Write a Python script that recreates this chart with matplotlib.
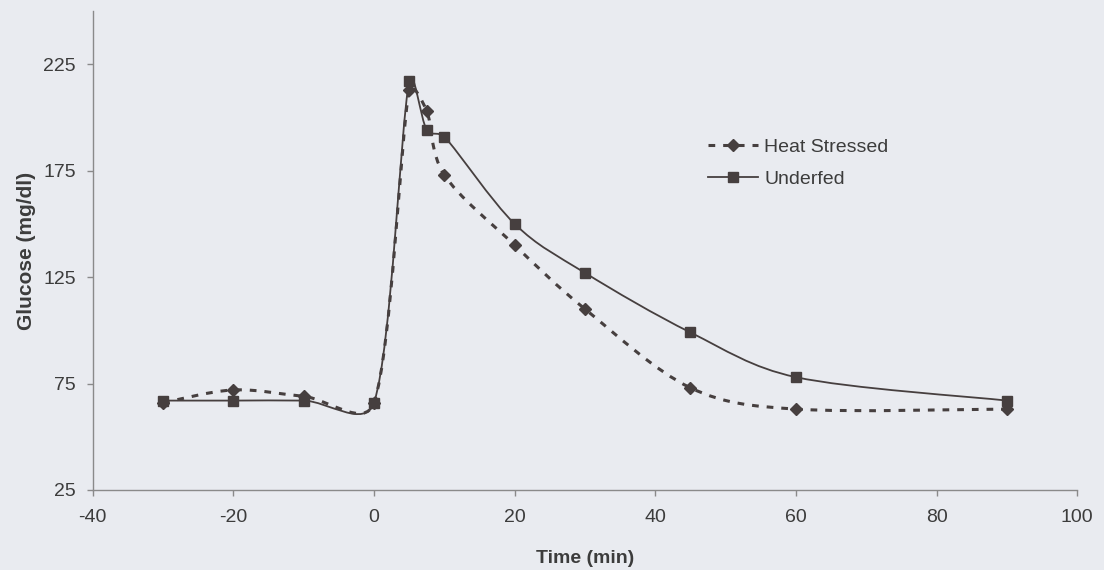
import numpy as np
import matplotlib
matplotlib.use("Agg")
import matplotlib.pyplot as plt
from matplotlib.path import Path
from matplotlib.patches import PathPatch
from matplotlib.lines import Line2D

# ---- data ----
time_hs = [-30, -20, -10, 0, 5, 7.5, 10, 20, 30, 45, 60, 90]
heat_stressed = [66, 72, 69, 66, 213, 203, 173, 140, 110, 73, 63, 63]
time_uf = [-30, -20, -10, 0, 5, 7.5, 10, 20, 30, 45, 60, 90]
underfed = [67, 67, 67, 66, 217, 194, 191, 150, 127, 99, 78, 67]
xticks = [-40, -20, 0, 20, 40, 60, 80, 100]
yticks = [25, 75, 125, 175, 225]

BG = "#e9ebf0"
INK = "#463f3f"
TXT = "#3c3c3c"

plt.rcParams['font.family'] = ['Liberation Sans', 'DejaVu Sans']
plt.rcParams['axes.unicode_minus'] = False

fig = plt.figure(figsize=(11.04, 5.70), dpi=100, facecolor=BG)
ax = fig.add_axes([92.7 / 1104, 80 / 570, (1077.3 - 92.7) / 1104, (559 - 80) / 570])
ax.set_facecolor(BG)
ax.set_xlim(-40, 100)
ax.set_ylim(25, 250)


def smooth_path(xs, ys, ratio=0.4):
    """Excel-like smoothed line: cubic Bezier segments through the points."""
    pts = ax.transData.transform(np.column_stack([xs, ys]))
    n = len(pts)
    verts = [pts[0]]
    codes = [Path.MOVETO]
    for i in range(n - 1):
        p0 = pts[i - 1] if i > 0 else pts[i]
        p1 = pts[i]
        p2 = pts[i + 1]
        p3 = pts[i + 2] if i + 2 < n else pts[i + 1]
        seg = np.linalg.norm(p2 - p1)
        t1 = (p2 - p0) / 6.0
        t2 = (p3 - p1) / 6.0
        l1 = np.linalg.norm(t1)
        l2 = np.linalg.norm(t2)
        if l1 > ratio * seg and l1 > 0:
            t1 = t1 * ratio * seg / l1
        if l2 > ratio * seg and l2 > 0:
            t2 = t2 * ratio * seg / l2
        verts += [p1 + t1, p2 - t2, p2]
        codes += [Path.CURVE4] * 3
    data_verts = ax.transData.inverted().transform(np.array(verts))
    return Path(data_verts, codes)


hs_path = smooth_path(time_hs, heat_stressed)
uf_path = smooth_path(time_uf, underfed)

ax.add_patch(PathPatch(uf_path, facecolor='none', edgecolor=INK, lw=1.3, zorder=3))
ax.add_patch(PathPatch(hs_path, facecolor='none', edgecolor=INK, lw=2.2,
                       linestyle=(0, (2.2, 2.6)), zorder=3))

ax.plot(time_uf, underfed, linestyle='none', marker='s', ms=7.5,
        color=INK, mec=INK, zorder=4)
ax.plot(time_hs, heat_stressed, linestyle='none', marker='D', ms=6,
        color=INK, mec=INK, zorder=5)

for s in ['top', 'right']:
    ax.spines[s].set_visible(False)
for s in ['left', 'bottom']:
    ax.spines[s].set_color('#8a8a8a')
    ax.spines[s].set_linewidth(1.0)

ax.set_xticks(xticks)
ax.set_yticks(yticks)
ax.tick_params(axis='both', colors='#8a8a8a', labelcolor=TXT, labelsize=14,
               length=4, width=1)
ax.tick_params(axis='x', pad=10)
ax.tick_params(axis='y', pad=8)

ax.set_xlabel('Time (min)', fontsize=14, fontweight='bold', color=TXT, labelpad=17)
ax.set_ylabel('Glucose (mg/dl)', fontsize=15, fontweight='bold', color=TXT, labelpad=5)

handles = [
    Line2D([], [], color=INK, lw=2.2, linestyle=(0, (2.2, 2.6)), marker='D', ms=6),
    Line2D([], [], color=INK, lw=1.3, marker='s', ms=7.5),
]
leg = ax.legend(handles, ['Heat Stressed', 'Underfed'], loc='upper left',
                bbox_to_anchor=(0.607, 0.771), frameon=False, fontsize=14,
                handlelength=2.6, handletextpad=0.3, labelspacing=0.76,
                labelcolor=TXT)

fig.savefig('out.png', dpi=100, facecolor=BG)
